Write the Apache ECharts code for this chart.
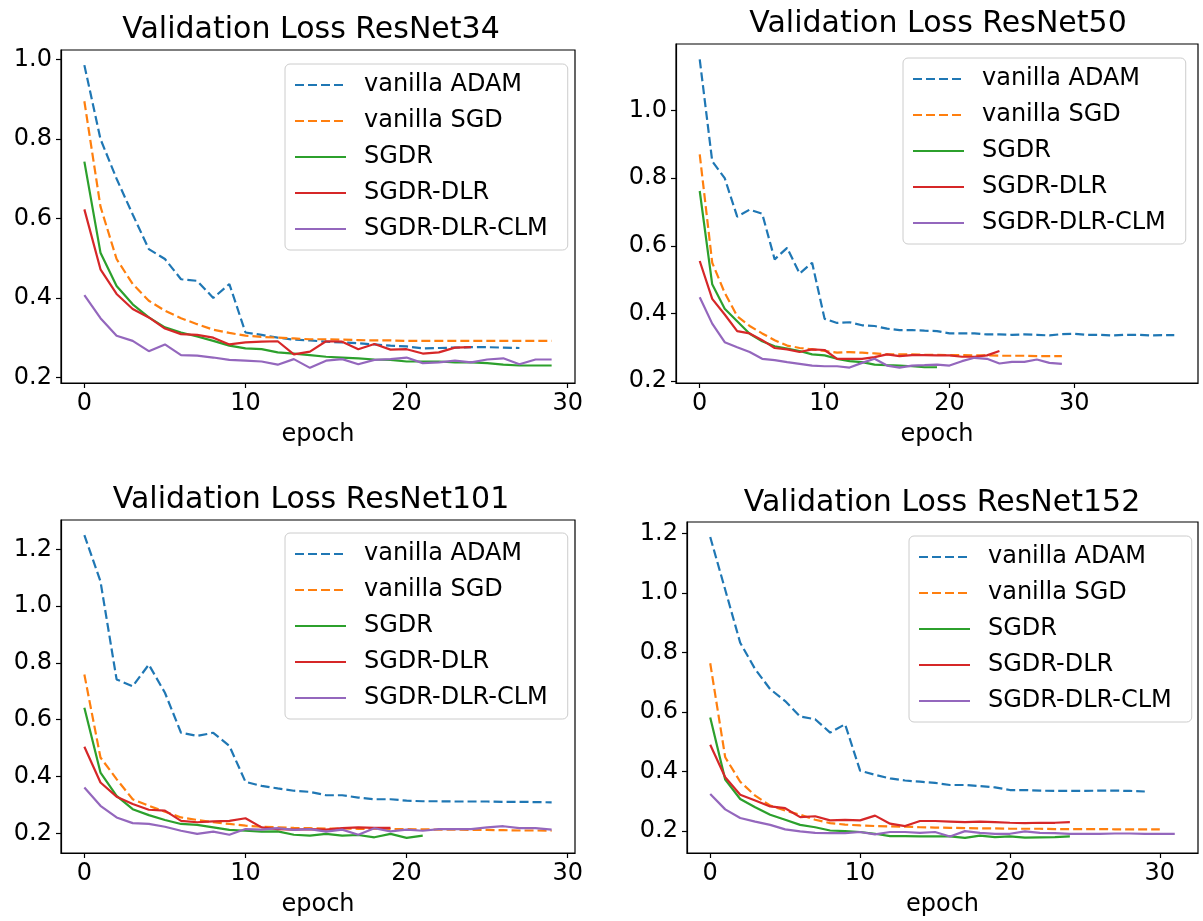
<!DOCTYPE html>
<html>
<head>
<meta charset="utf-8">
<title>Validation Loss</title>
<script src="https://cdn.jsdelivr.net/npm/echarts@6/dist/echarts.min.js"></script>
<style>
  html, body { margin: 0; padding: 0; background: #fff; }
  #chart { width: 1203px; height: 921px; }
</style>
</head>
<body>
<div id="chart"></div>
<script>
// ---- validation loss per epoch ----
const seriesNames = ['vanilla ADAM', 'vanilla SGD', 'SGDR', 'SGDR-DLR', 'SGDR-DLR-CLM'];
const panelTitles = ['Validation Loss ResNet34', 'Validation Loss ResNet50', 'Validation Loss ResNet101', 'Validation Loss ResNet152'];
const xTicks = [0, 10, 20, 30];
const yTicks34 = [0.2, 0.4, 0.6, 0.8, 1.0];
const yTicks50 = [0.2, 0.4, 0.6, 0.8, 1.0];
const yTicks101 = [0.2, 0.4, 0.6, 0.8, 1.0, 1.2];
const yTicks152 = [0.2, 0.4, 0.6, 0.8, 1.0, 1.2];

// ResNet34
const r34Adam = [0.986, 0.80, 0.70, 0.61, 0.523, 0.498, 0.447, 0.443, 0.40, 0.435, 0.313, 0.307, 0.30, 0.295, 0.293, 0.29, 0.288, 0.286, 0.283, 0.28, 0.278, 0.273, 0.274, 0.275, 0.276, 0.276, 0.275, 0.274];
const r34Sgd = [0.895, 0.63, 0.498, 0.435, 0.393, 0.368, 0.349, 0.334, 0.32, 0.312, 0.305, 0.302, 0.30, 0.298, 0.296, 0.296, 0.295, 0.294, 0.293, 0.293, 0.292, 0.292, 0.292, 0.292, 0.292, 0.292, 0.292, 0.292, 0.292, 0.292];
const r34Sgdr = [0.743, 0.514, 0.43, 0.384, 0.351, 0.326, 0.313, 0.303, 0.292, 0.28, 0.273, 0.271, 0.263, 0.26, 0.256, 0.252, 0.25, 0.248, 0.245, 0.244, 0.24, 0.24, 0.24, 0.238, 0.238, 0.236, 0.232, 0.23, 0.23, 0.23];
const r34Dlr = [0.623, 0.472, 0.41, 0.372, 0.351, 0.323, 0.309, 0.307, 0.30, 0.283, 0.288, 0.29, 0.291, 0.258, 0.265, 0.291, 0.29, 0.271, 0.284, 0.27, 0.271, 0.26, 0.263, 0.275, 0.276];
const r34Clm = [0.407, 0.349, 0.305, 0.292, 0.266, 0.283, 0.256, 0.255, 0.25, 0.244, 0.242, 0.24, 0.232, 0.246, 0.224, 0.242, 0.246, 0.233, 0.244, 0.246, 0.25, 0.236, 0.238, 0.242, 0.238, 0.245, 0.248, 0.233, 0.245, 0.245];

// ResNet50
const r50Adam = [1.151, 0.85, 0.80, 0.686, 0.707, 0.695, 0.56, 0.594, 0.518, 0.55, 0.384, 0.372, 0.374, 0.365, 0.363, 0.355, 0.351, 0.351, 0.349, 0.348, 0.341, 0.341, 0.341, 0.338, 0.338, 0.337, 0.338, 0.337, 0.335, 0.339, 0.34, 0.337, 0.337, 0.335, 0.337, 0.337, 0.335, 0.336, 0.336];
const r50Sgd = [0.87, 0.55, 0.461, 0.392, 0.363, 0.341, 0.321, 0.305, 0.298, 0.294, 0.289, 0.284, 0.286, 0.284, 0.282, 0.279, 0.279, 0.279, 0.278, 0.278, 0.277, 0.277, 0.276, 0.276, 0.275, 0.275, 0.275, 0.274, 0.274, 0.274];
const r50Sgdr = [0.762, 0.486, 0.414, 0.377, 0.34, 0.318, 0.303, 0.296, 0.289, 0.279, 0.276, 0.266, 0.259, 0.256, 0.249, 0.247, 0.246, 0.244, 0.241, 0.241];
const r50Dlr = [0.555, 0.443, 0.397, 0.348, 0.341, 0.321, 0.298, 0.294, 0.286, 0.294, 0.292, 0.266, 0.266, 0.266, 0.271, 0.279, 0.274, 0.277, 0.277, 0.276, 0.276, 0.272, 0.272, 0.276, 0.289];
const r50Clm = [0.448, 0.37, 0.315, 0.30, 0.286, 0.266, 0.262, 0.256, 0.251, 0.246, 0.244, 0.244, 0.24, 0.254, 0.266, 0.246, 0.24, 0.246, 0.247, 0.249, 0.246, 0.259, 0.269, 0.266, 0.252, 0.257, 0.257, 0.264, 0.254, 0.251];

// ResNet101
const r101Adam = [1.25, 1.087, 0.742, 0.718, 0.794, 0.695, 0.554, 0.543, 0.554, 0.508, 0.381, 0.367, 0.358, 0.35, 0.346, 0.334, 0.334, 0.326, 0.32, 0.32, 0.315, 0.313, 0.313, 0.312, 0.312, 0.312, 0.311, 0.311, 0.31, 0.309];
const r101Sgd = [0.759, 0.467, 0.391, 0.32, 0.297, 0.276, 0.256, 0.247, 0.239, 0.233, 0.227, 0.223, 0.221, 0.219, 0.218, 0.217, 0.217, 0.216, 0.216, 0.215, 0.215, 0.214, 0.213, 0.213, 0.212, 0.212, 0.211, 0.21, 0.21, 0.209];
const r101Sgdr = [0.642, 0.414, 0.332, 0.285, 0.264, 0.247, 0.233, 0.23, 0.221, 0.212, 0.209, 0.206, 0.207, 0.195, 0.192, 0.198, 0.192, 0.194, 0.186, 0.198, 0.184, 0.192];
const r101Dlr = [0.505, 0.379, 0.329, 0.303, 0.283, 0.28, 0.244, 0.239, 0.242, 0.244, 0.253, 0.221, 0.215, 0.213, 0.215, 0.213, 0.218, 0.221, 0.219, 0.219];
const r101Clm = [0.361, 0.297, 0.256, 0.236, 0.233, 0.223, 0.209, 0.198, 0.206, 0.195, 0.215, 0.213, 0.218, 0.212, 0.215, 0.206, 0.213, 0.195, 0.218, 0.207, 0.213, 0.209, 0.215, 0.215, 0.215, 0.221, 0.225, 0.218, 0.218, 0.213];

// ResNet152
const r152Adam = [1.188, 1.011, 0.833, 0.744, 0.677, 0.637, 0.585, 0.576, 0.531, 0.559, 0.403, 0.389, 0.377, 0.37, 0.366, 0.362, 0.355, 0.355, 0.351, 0.347, 0.338, 0.338, 0.336, 0.335, 0.335, 0.335, 0.336, 0.336, 0.335, 0.333];
const r152Sgd = [0.764, 0.448, 0.366, 0.319, 0.286, 0.269, 0.255, 0.238, 0.227, 0.222, 0.219, 0.217, 0.216, 0.215, 0.213, 0.212, 0.211, 0.21, 0.209, 0.209, 0.208, 0.208, 0.208, 0.207, 0.207, 0.207, 0.207, 0.206, 0.206, 0.206, 0.206];
const r152Sgdr = [0.582, 0.373, 0.308, 0.28, 0.255, 0.238, 0.221, 0.213, 0.202, 0.2, 0.197, 0.191, 0.183, 0.183, 0.182, 0.182, 0.182, 0.177, 0.185, 0.18, 0.182, 0.178, 0.179, 0.18, 0.182];
const r152Dlr = [0.49, 0.381, 0.322, 0.303, 0.283, 0.277, 0.247, 0.25, 0.236, 0.238, 0.236, 0.252, 0.225, 0.217, 0.234, 0.234, 0.232, 0.23, 0.232, 0.23, 0.228, 0.227, 0.228, 0.228, 0.23];
const r152Clm = [0.325, 0.273, 0.244, 0.232, 0.221, 0.206, 0.199, 0.194, 0.193, 0.193, 0.197, 0.189, 0.197, 0.197, 0.194, 0.197, 0.182, 0.2, 0.194, 0.191, 0.191, 0.199, 0.194, 0.193, 0.191, 0.191, 0.191, 0.192, 0.192, 0.191, 0.191, 0.191];

// ---- styling ----
const FONT = 'DejaVu Sans';
const LABEL_SIZE = 24;
const TITLE_SIZE = 30;
const colors = ['#1f77b4', '#ff7f0e', '#2ca02c', '#d62728', '#9467bd'];
const dashed = [true, true, false, false, false];

const panels = [
  { title: panelTitles[0], data: [r34Adam, r34Sgd, r34Sgdr, r34Dlr, r34Clm], yTicks: yTicks34,
    grid: { left: 61, top: 50, width: 514, height: 333 }, titleX: 311, titleY: 30, legend: { left: 285, top: 64 } },
  { title: panelTitles[1], data: [r50Adam, r50Sgd, r50Sgdr, r50Dlr, r50Clm], yTicks: yTicks50,
    grid: { left: 676, top: 44, width: 522, height: 339 }, titleX: 938, titleY: 24, legend: { left: 903, top: 58 } },
  { title: panelTitles[2], data: [r101Adam, r101Sgd, r101Sgdr, r101Dlr, r101Clm], yTicks: yTicks101,
    grid: { left: 61, top: 520, width: 514, height: 333 }, titleX: 311, titleY: 500, legend: { left: 285, top: 533 } },
  { title: panelTitles[3], data: [r152Adam, r152Sgd, r152Sgdr, r152Dlr, r152Clm], yTicks: yTicks152,
    grid: { left: 687, top: 522, width: 511, height: 331 }, titleX: 942, titleY: 503, legend: { left: 909, top: 536 } }
];

// axis limits with a 5% margin around the data, like the usual autoscale
function limits(arrays) {
  let n = 0, lo = Infinity, hi = -Infinity;
  arrays.forEach(a => {
    n = Math.max(n, a.length - 1);
    a.forEach(v => { lo = Math.min(lo, v); hi = Math.max(hi, v); });
  });
  const px = n * 0.05, py = (hi - lo) * 0.05;
  return { xMin: -px, xMax: n + px, yMin: lo - py, yMax: hi + py };
}

const grids = [], xAxes = [], yAxes = [], series = [], legends = [], texts = [];

panels.forEach((p, k) => {
  const lim = limits(p.data);
  grids.push(Object.assign({ show: true, borderColor: '#000', borderWidth: 1.2, backgroundColor: '#fff', containLabel: false }, p.grid));
  xAxes.push({
    type: 'value', gridIndex: k, min: lim.xMin, max: lim.xMax,
    name: 'epoch', nameLocation: 'middle', nameGap: 40,
    nameTextStyle: { fontFamily: FONT, fontSize: LABEL_SIZE, color: '#000' },
    axisLine: { show: true, onZero: false, lineStyle: { color: '#000', width: 1.2 } },
    axisTick: { show: true, length: 5, lineStyle: { color: '#000', width: 1.2 }, customValues: xTicks },
    axisLabel: { fontFamily: FONT, fontSize: LABEL_SIZE, color: '#000', margin: 9, customValues: xTicks, formatter: v => String(v) },
    splitLine: { show: false }
  });
  yAxes.push({
    type: 'value', gridIndex: k, min: lim.yMin, max: lim.yMax,
    axisLine: { show: true, onZero: false, lineStyle: { color: '#000', width: 1.2 } },
    axisTick: { show: true, length: 5, lineStyle: { color: '#000', width: 1.2 }, customValues: p.yTicks },
    axisLabel: { fontFamily: FONT, fontSize: LABEL_SIZE, color: '#000', margin: 9, customValues: p.yTicks, formatter: v => v.toFixed(1) },
    splitLine: { show: false }
  });
  p.data.forEach((arr, j) => {
    series.push({
      type: 'line', name: seriesNames[j], xAxisIndex: k, yAxisIndex: k,
      data: arr.map((v, i) => [i, v]),
      symbol: 'none', smooth: false, animation: false,
      lineStyle: { color: colors[j], width: 2.2, type: dashed[j] ? [9, 4] : 'solid' },
      itemStyle: { color: colors[j] }
    });
  });
  legends.push({
    data: seriesNames, orient: 'vertical', left: p.legend.left, top: p.legend.top,
    selectedMode: false, itemWidth: 51, itemHeight: 14, itemGap: 10,
    padding: [8, 20, 8, 9],
    itemStyle: { opacity: 0 },
    backgroundColor: 'rgba(255,255,255,0.8)', borderColor: '#cccccc', borderWidth: 1, borderRadius: 5,
    textStyle: { fontFamily: FONT, fontSize: LABEL_SIZE, color: '#000', lineHeight: 26, padding: [0, 0, 0, 13] }
  });
  texts.push({
    type: 'text', x: p.titleX, y: p.titleY,
    style: { text: p.title, font: TITLE_SIZE + 'px "' + FONT + '"', fill: '#000', align: 'center', verticalAlign: 'middle' }
  });
});

const chart = echarts.init(document.getElementById('chart'), null, { renderer: 'canvas' });
chart.setOption({
  animation: false,
  backgroundColor: '#fff',
  grid: grids,
  xAxis: xAxes,
  yAxis: yAxes,
  legend: legends,
  series: series,
  graphic: { elements: texts }
});
</script>
</body>
</html>
